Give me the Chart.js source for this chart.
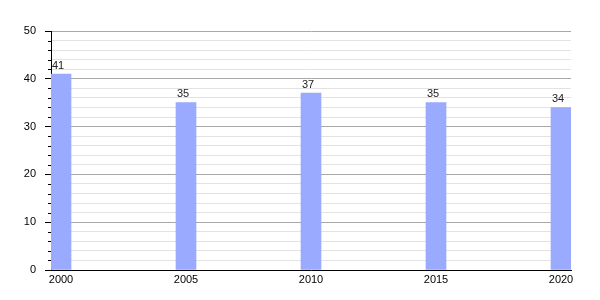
<!DOCTYPE html>
<html>
<head>
<meta charset="utf-8">
<script src="https://cdn.jsdelivr.net/npm/chart.js@4"></script>
<style>
  html, body { margin: 0; padding: 0; background: #fff; }
  #wrap { width: 600px; height: 300px; }
</style>
</head>
<body>
<div id="wrap"><canvas id="chart"></canvas></div>
<script>
const years  = [2000, 2005, 2010, 2015, 2020];
const values = [41, 35, 37, 35, 34];
const yTicks = [0, 10, 20, 30, 40, 50];

const FONT = { family: 'Liberation Sans, Arial, sans-serif', size: 11 };

// value labels over bars + short minor ticks on the y axis
const extras = {
  id: 'extras',
  afterDraw(chart) {
    const c = chart.ctx;
    const y = chart.scales.y;
    c.save();
    c.strokeStyle = '#000';
    c.lineWidth = 1;
    y.ticks.forEach(t => {
      if (t.value % 10 === 0) return;
      const py = Math.round(y.getPixelForValue(t.value)) + 0.5;
      c.beginPath();
      c.moveTo(y.right - 3, py);
      c.lineTo(y.right, py);
      c.stroke();
    });
    c.font = `${FONT.size}px ${FONT.family}`;
    c.fillStyle = '#222';
    c.textAlign = 'center';
    c.textBaseline = 'bottom';
    chart.getDatasetMeta(0).data.forEach((bar, i) => {
      c.fillText(String(values[i]), bar.x - 3, bar.y - 3);
    });
    c.restore();
  }
};

new Chart(document.getElementById('chart'), {
  type: 'bar',
  data: {
    datasets: [{
      data: years.map((yr, i) => ({ x: yr, y: values[i] })),
      backgroundColor: '#99aaff',
      borderWidth: 0,
      barThickness: 20
    }]
  },
  options: {
    responsive: true,
    maintainAspectRatio: false,
    animation: false,
    layout: { padding: { top: 31, right: 29, left: 0, bottom: 0 } },
    plugins: { legend: { display: false }, tooltip: { enabled: false } },
    scales: {
      x: {
        type: 'linear',
        offset: false,
        min: 1999.6,
        max: 2020.4,
        afterBuildTicks: s => { s.ticks = years.map(v => ({ value: v })); },
        afterFit: s => { s.height = 30; },
        grid: { display: false, drawTicks: false, offset: false },
        border: { display: true, color: '#000', width: 1 },
        ticks: { font: FONT, color: '#000', padding: 3, maxRotation: 0, callback: v => String(v) }
      },
      y: {
        min: 0,
        max: 50,
        afterBuildTicks: s => {
          const t = [];
          for (let v = 0; v <= 50; v += 2) t.push({ value: v });
          s.ticks = t;
        },
        afterFit: s => { s.width = 51; },
        grid: {
          color: ctx => (ctx.tick && ctx.tick.value % 10 === 0) ? '#a8a8a8' : '#e2e2e2',
          tickColor: ctx => (ctx.tick && ctx.tick.value % 10 === 0) ? '#000' : 'rgba(0,0,0,0)',
          tickLength: 6
        },
        border: { display: true, color: '#000', width: 1 },
        ticks: {
          font: FONT,
          color: '#000',
          padding: 9,
          autoSkip: false,
          callback: v => yTicks.includes(v) ? String(v) : ''
        }
      }
    }
  },
  plugins: [extras]
});
</script>
</body>
</html>
